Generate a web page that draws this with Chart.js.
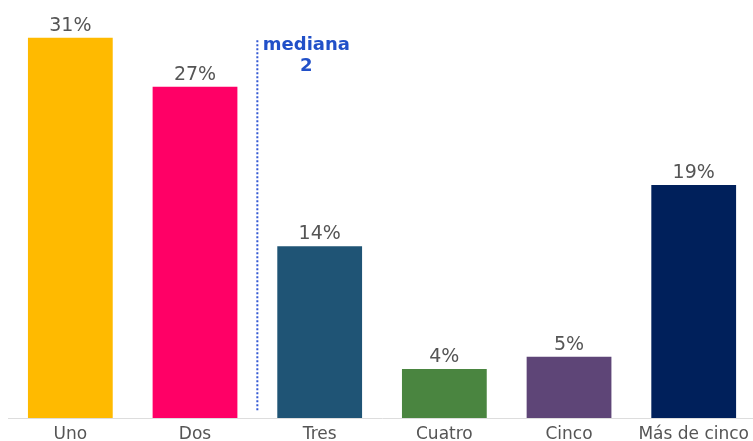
<!DOCTYPE html>
<html><head><meta charset="utf-8">
<script src="https://cdn.jsdelivr.net/npm/chart.js@4.4.0/dist/chart.umd.min.js"></script>
<style>html,body{margin:0;padding:0;background:#fff;overflow:hidden;}#wrap{width:757px;height:441px;}</style>
</head><body><div id="wrap"><canvas id="c"></canvas></div>
<script>
const categories = ["Uno", "Dos", "Tres", "Cuatro", "Cinco", "Más de cinco"];
const values = [31, 27, 14, 4, 5, 19];
const colors = ["#FFBA00", "#FF0066", "#1F5475", "#4A8540", "#5E4577", "#00205B"];
const medianPosition = 1.5;
const medianLabel = ["mediana", "2"];

const labelPlugin = {
  id: 'vals',
  afterDatasetsDraw(chart) {
    const ctx = chart.ctx;
    const meta = chart.getDatasetMeta(0);
    ctx.save();
    ctx.font = '19px "DejaVu Sans"';
    ctx.fillStyle = '#555555';
    ctx.textAlign = 'center';
    ctx.textBaseline = 'alphabetic';
    meta.data.forEach((bar, i) => {
      ctx.fillText(values[i] + '%', bar.x, bar.y - 7);
    });
    const xs = chart.scales.x, ys = chart.scales.y;
    const mx = xs.getPixelForValue(medianPosition);
    ctx.strokeStyle = '#3358d4';
    ctx.lineWidth = 2;
    ctx.setLineDash([2, 2]);
    ctx.beginPath();
    ctx.moveTo(mx, ys.getPixelForValue(30.8));
    ctx.lineTo(mx, ys.getPixelForValue(0.6));
    ctx.stroke();
    ctx.setLineDash([]);
    ctx.fillStyle = '#2150c8';
    ctx.font = 'bold 18px "DejaVu Sans"';
    ctx.textBaseline = 'alphabetic';
    ctx.fillText(medianLabel[0], mx + 49, ys.getPixelForValue(30.0));
    ctx.fillText(medianLabel[1], mx + 49, ys.getPixelForValue(28.3));
    ctx.restore();
  }
};

new Chart(document.getElementById('c'), {
  type: 'bar',
  data: { labels: categories, datasets: [{ data: values, backgroundColor: colors, barPercentage: 0.68, categoryPercentage: 1 }] },
  options: {
    responsive: true, maintainAspectRatio: false, animation: false,
    layout: { padding: { top: 1, left: 8, right: 0, bottom: -10 } },
    plugins: { legend: { display: false }, tooltip: { enabled: false } },
    scales: {
      x: { grid: { display: false, drawTicks: false, tickLength: 0 }, border: { display: true, color: '#dddddd' },
           ticks: { color: '#555555', font: { family: 'DejaVu Sans', size: 17, lineHeight: 1 }, padding: 8 } },
      y: { display: false, min: 0, max: 34 }
    }
  },
  plugins: [labelPlugin]
});
</script></body></html>
